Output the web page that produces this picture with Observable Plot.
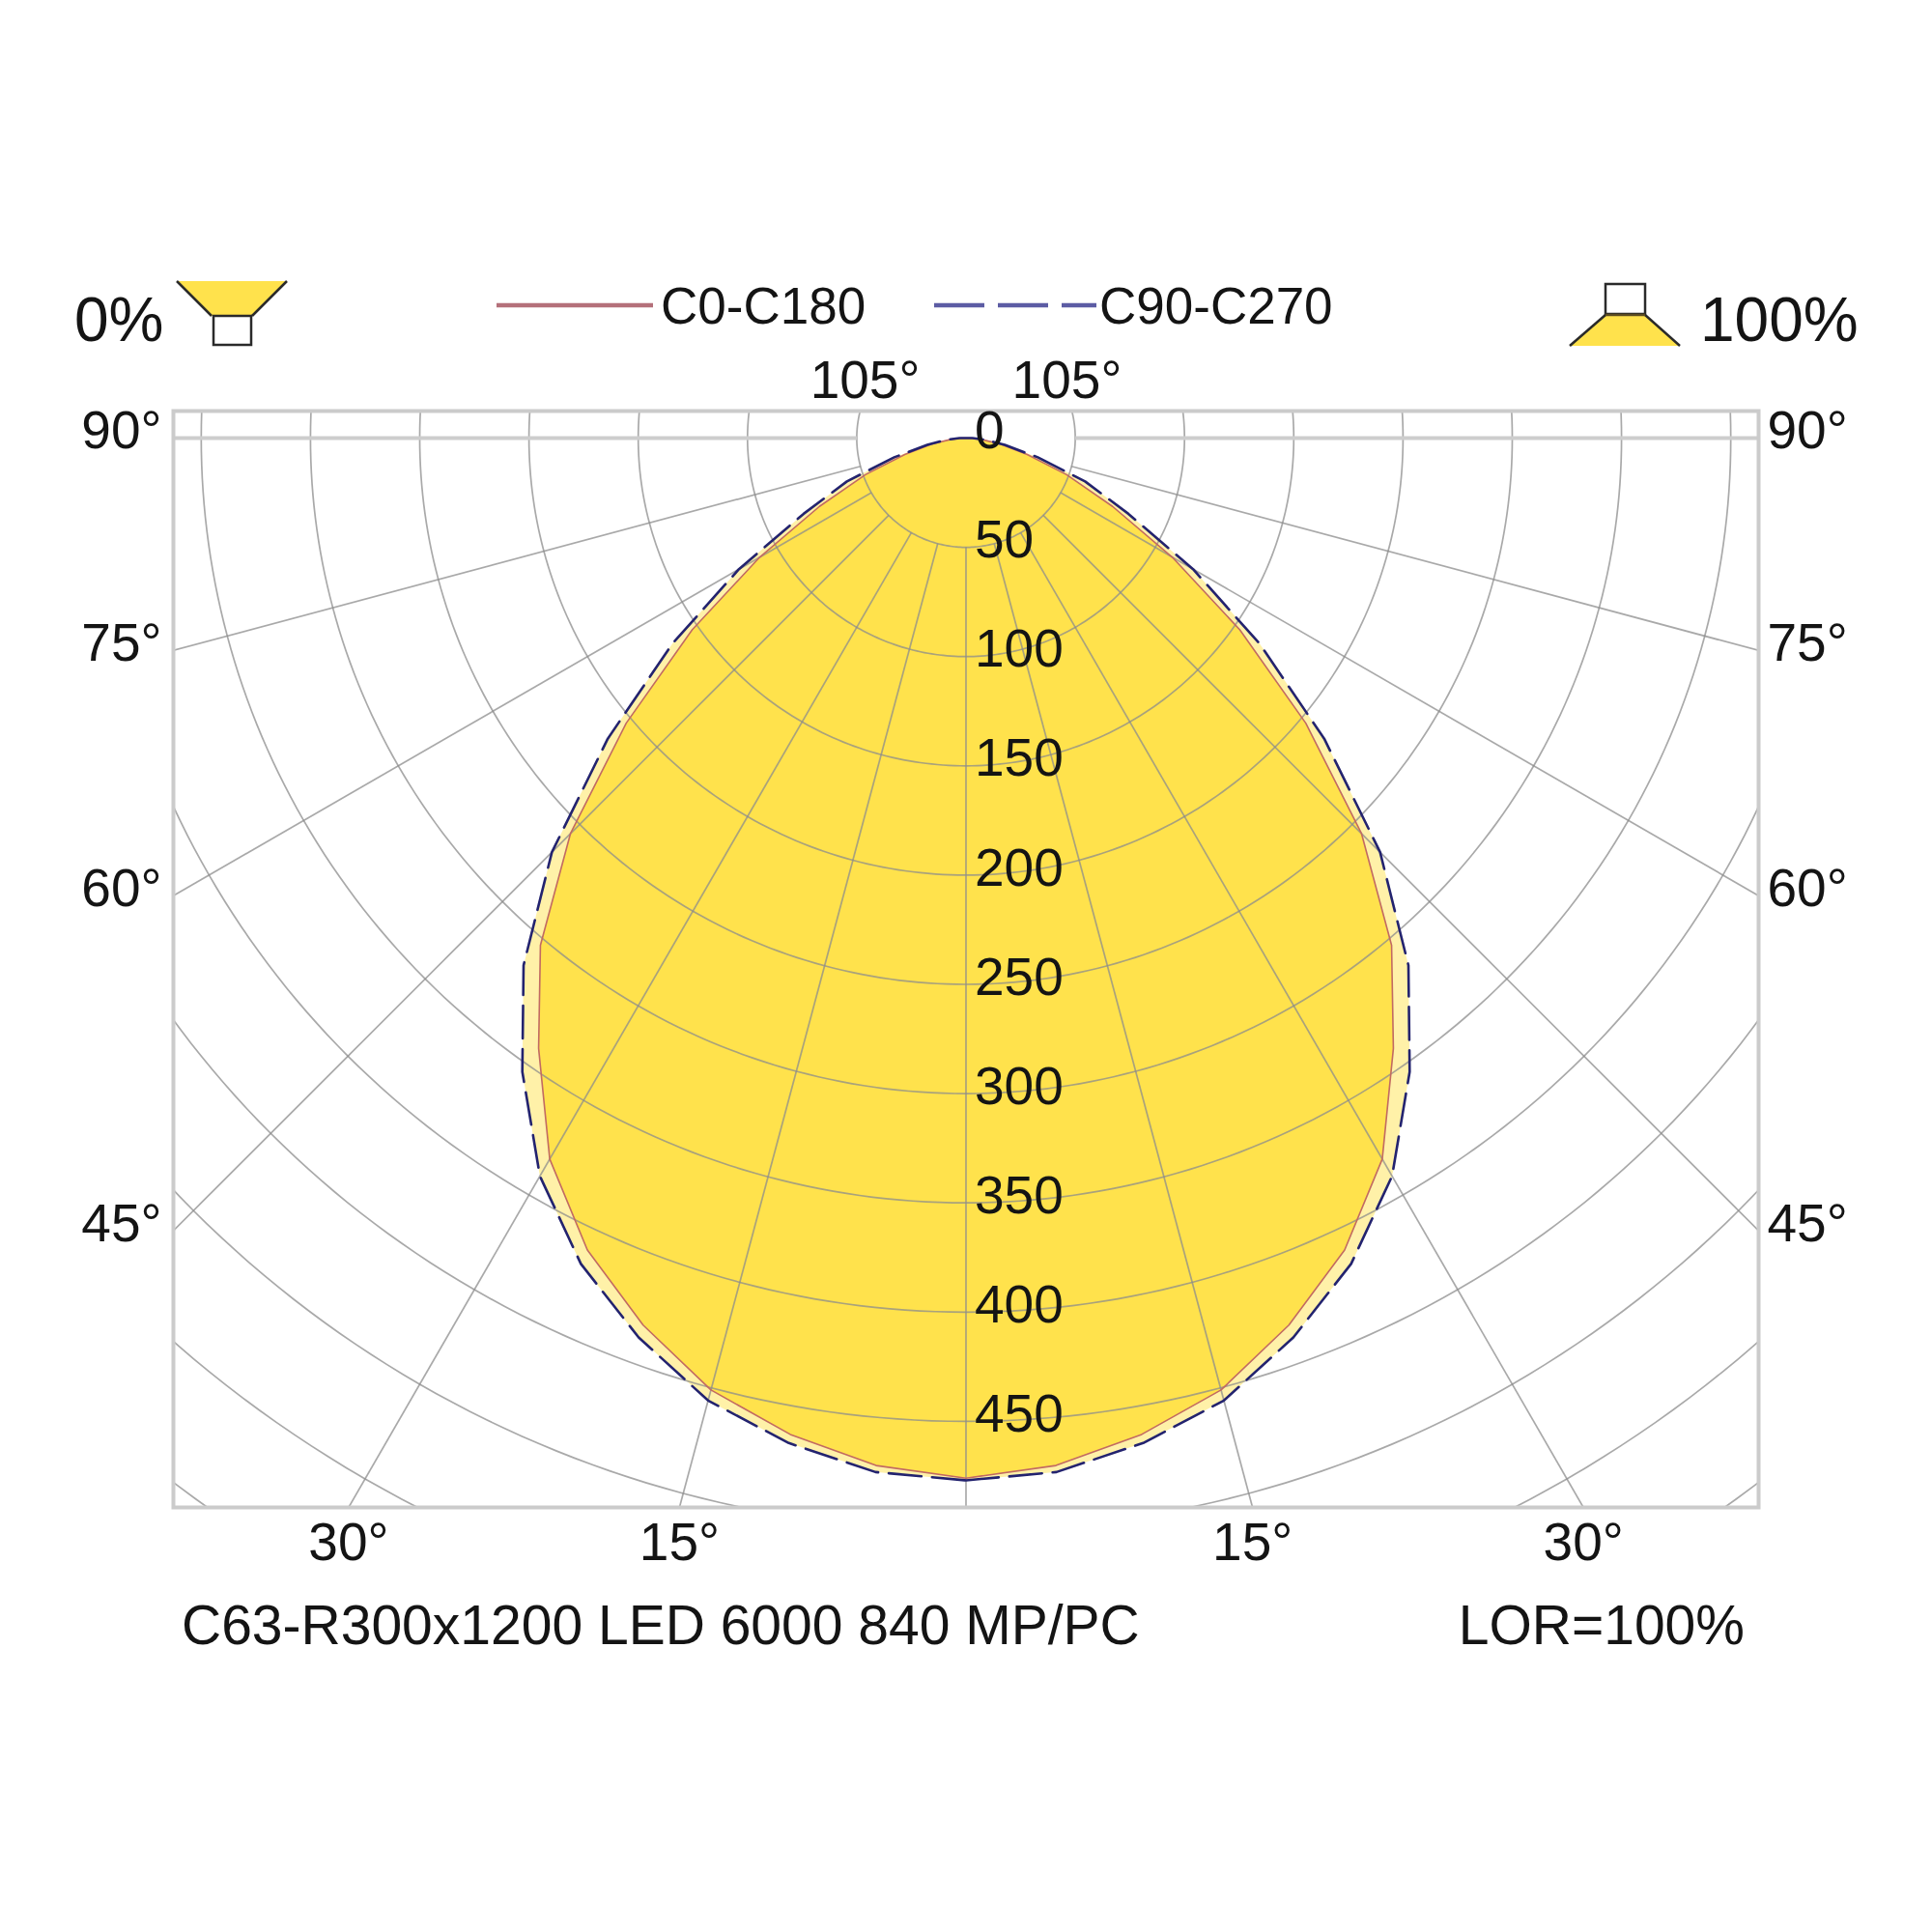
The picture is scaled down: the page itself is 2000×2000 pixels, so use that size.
<!DOCTYPE html>
<html>
<head>
<meta charset="utf-8">
<script src="https://cdn.jsdelivr.net/npm/d3@7"></script>
<script src="https://cdn.jsdelivr.net/npm/@observablehq/plot@0.6"></script>
<style>
  html, body { margin: 0; padding: 0; background: #ffffff; }
  #chart svg { display: block; }
</style>
</head>
<body>
<div id="chart"></div>
<script>
// ---------------- data (luminous intensity, cd) ----------------
const angles = [0, 5, 10, 15, 20, 25, 30, 35, 40, 45, 50, 55, 60, 65, 70, 75, 80, 85, 90,
                95, 100, 105, 110, 115, 120, 125, 130, 135, 140, 145, 150, 155, 160, 165, 170, 175, 180];
const c0c180 = [476, 472, 463, 451, 432, 410, 381, 341, 303, 256, 203, 153, 109, 74, 49, 29, 16, 7, 2,
                0, 0, 0, 0, 0, 0, 0, 0, 0, 0, 0, 0, 0, 0, 0, 0, 0, 0];
const c90c270 = [477, 475, 467, 456, 438, 417, 390, 354, 315, 268, 214, 164, 120, 82, 58, 34, 18, 9, 3,
                 0, 0, 0, 0, 0, 0, 0, 0, 0, 0, 0, 0, 0, 0, 0, 0, 0, 0];
const ringLabels = [0, 50, 100, 150, 200, 250, 300, 350, 400, 450];
const sideAngleTicks = [90, 75, 60, 45];
const bottomAngleTicks = [15, 30];
const topAngleTicks = [105];
const seriesNames = ["C0-C180", "C90-C270"];
const footerLeft = "C63-R300x1200 LED 6000 840 MP/PC";
const footerRight = "LOR=100%";

// ---------------- layout ----------------
const W = 2000, H = 2000;
const L = 179, R = 1820, T = 425, B = 1560;   // frame
const CX = 999.5, CY = 453;                   // luminaire centre
const PX = 2.262;                             // px per cd
const xDom = [(L - CX) / PX, (R - CX) / PX];
const yDom = [-(B - CY) / PX, (CY - T) / PX];
const rad = d => d * Math.PI / 180;

// polar -> cartesian (angle measured from straight down)
function polygon(vals) {
  const pts = [];
  angles.forEach((a, i) => pts.push({x: vals[i] * Math.sin(rad(a)), y: -vals[i] * Math.cos(rad(a))}));
  for (let i = angles.length - 1; i >= 0; i--) {
    const a = angles[i];
    pts.push({x: -vals[i] * Math.sin(rad(a)), y: -vals[i] * Math.cos(rad(a))});
  }
  return pts;
}
const polyC0 = polygon(c0c180);
const polyC90 = polygon(c90c270);

// grid
const ringStep = 50;
const rings = [];
for (let r = ringStep; r <= 650; r += ringStep) {
  for (let t = 0; t <= 360; t += 1) rings.push({r, x: r * Math.sin(rad(t)), y: -r * Math.cos(rad(t))});
}
const spokeAngles = [];
for (let a = -105; a <= 105; a += 15) if (Math.abs(a) !== 90) spokeAngles.push(a);
const spokes = spokeAngles.map(a => ({
  x1: ringStep * Math.sin(rad(a)), y1: -ringStep * Math.cos(rad(a)),
  x2: 900 * Math.sin(rad(a)), y2: -900 * Math.cos(rad(a))
}));
const horiz = [-1, 1].map(s => ({x1: s * ringStep, y1: 0, x2: s * 900, y2: 0}));

// angle labels
const xHalf = xDom[1];
const sideLabels = [];
sideAngleTicks.forEach(a => [-1, 1].forEach(s => sideLabels.push({
  s, x: s * xHalf, y: a === 90 ? 0 : -xHalf / Math.tan(rad(a)), text: a + "°"
})));
const bottomLabels = [];
bottomAngleTicks.forEach(a => [-1, 1].forEach(s => bottomLabels.push({
  x: s * (-yDom[0]) * Math.tan(rad(a)), y: yDom[0], text: a + "°"
})));
const topLabels = [];
topAngleTicks.forEach(a => [-1, 1].forEach(s => topLabels.push({
  x: s * yDom[1] * Math.sin(rad(a)) / -Math.cos(rad(a)), y: yDom[1], text: a + "°"
})));

const yellow = "#ffe24c";
const paleYellow = "#fff1a8";
const redLine = "#c26a62";
const blueLine = "#23236f";
const gridColor = "#8c8c8c";
const txt = "#141414";
const font = "'Liberation Sans', Arial, sans-serif";

const svg = Plot.plot({
  width: W, height: H,
  marginLeft: L, marginRight: W - R, marginTop: T, marginBottom: H - B,
  x: {domain: xDom, axis: null},
  y: {domain: yDom, axis: null},
  style: {fontFamily: font, background: "#ffffff", color: txt},
  marks: [
    Plot.line(polyC90, {x: "x", y: "y", fill: paleYellow, stroke: "none", curve: "linear-closed", clip: true}),
    Plot.line(polyC0, {x: "x", y: "y", fill: yellow, stroke: "none", curve: "linear-closed", clip: true}),
    Plot.line(rings, {x: "x", y: "y", z: "r", stroke: gridColor, strokeOpacity: 0.75, strokeWidth: 1.7, clip: true}),
    Plot.link(spokes, {x1: "x1", y1: "y1", x2: "x2", y2: "y2", stroke: gridColor, strokeOpacity: 0.75, strokeWidth: 1.7, clip: true}),
    Plot.link(horiz, {x1: "x1", y1: "y1", x2: "x2", y2: "y2", stroke: "#cdcdcd", strokeWidth: 4, clip: true}),
    Plot.frame({stroke: "#cbcbcb", strokeWidth: 4}),
    Plot.line(polyC0, {x: "x", y: "y", stroke: redLine, strokeWidth: 1.6, curve: "linear-closed", clip: true}),
    Plot.line(polyC90, {x: "x", y: "y", stroke: blueLine, strokeWidth: 2.6, strokeDasharray: "34,11", curve: "linear-closed", clip: true}),
    Plot.text(ringLabels, {x: () => 0, y: d => -d, text: d => String(d), textAnchor: "start", lineAnchor: "middle",
      dx: 9, dy: -7, fontSize: 55, fill: txt}),
    Plot.text(sideLabels.filter(d => d.s < 0), {x: "x", y: "y", text: "text", textAnchor: "end", lineAnchor: "middle",
      dx: -12, dy: -7, fontSize: 55, fill: txt}),
    Plot.text(sideLabels.filter(d => d.s > 0), {x: "x", y: "y", text: "text", textAnchor: "start", lineAnchor: "middle",
      dx: 9, dy: -7, fontSize: 55, fill: txt}),
    Plot.text(bottomLabels, {x: "x", y: "y", text: "text", textAnchor: "middle", lineAnchor: "top",
      dy: 15, fontSize: 55, fill: txt}),
    Plot.text(topLabels, {x: "x", y: "y", text: "text", textAnchor: "middle", lineAnchor: "bottom",
      dy: -14, fontSize: 55, fill: txt})
  ]
});

document.getElementById("chart").appendChild(svg);

// ---------------- legend & footer ----------------
const g = d3.select(svg).append("g").attr("font-family", font).attr("fill", txt).attr("text-anchor", "start");

// 0% (indirect) icon
g.append("text").attr("x", 77).attr("y", 353).attr("font-size", 64).attr("text-anchor", "start").text("0%");
g.append("polygon").attr("points", "183,291 297,291 261,327 219,327").attr("fill", yellow);
g.append("line").attr("x1", 183).attr("y1", 291).attr("x2", 219).attr("y2", 327).attr("stroke", "#2a2a2a").attr("stroke-width", 2.5);
g.append("line").attr("x1", 297).attr("y1", 291).attr("x2", 261).attr("y2", 327).attr("stroke", "#2a2a2a").attr("stroke-width", 2.5);
g.append("rect").attr("x", 221).attr("y", 327).attr("width", 39).attr("height", 30)
  .attr("fill", "#fff").attr("stroke", "#2a2a2a").attr("stroke-width", 2.5);

// 100% (direct) icon
g.append("rect").attr("x", 1662).attr("y", 294).attr("width", 41).attr("height", 31)
  .attr("fill", "#fff").attr("stroke", "#2a2a2a").attr("stroke-width", 2.5);
g.append("polygon").attr("points", "1662,326 1703,326 1739,358 1625,358").attr("fill", yellow);
g.append("line").attr("x1", 1662).attr("y1", 326).attr("x2", 1625).attr("y2", 358).attr("stroke", "#2a2a2a").attr("stroke-width", 2.5);
g.append("line").attr("x1", 1703).attr("y1", 326).attr("x2", 1739).attr("y2", 358).attr("stroke", "#2a2a2a").attr("stroke-width", 2.5);
g.append("line").attr("x1", 1662).attr("y1", 326).attr("x2", 1703).attr("y2", 326).attr("stroke", "#5a4a20").attr("stroke-width", 2.5);
g.append("text").attr("x", 1760).attr("y", 353).attr("font-size", 64).attr("text-anchor", "start").text("100%");

// series legend
g.append("line").attr("x1", 514).attr("y1", 316).attr("x2", 676).attr("y2", 316)
  .attr("stroke", "#b4707a").attr("stroke-width", 4.5);
g.append("text").attr("x", 684).attr("y", 335).attr("font-size", 53).attr("text-anchor", "start").text(seriesNames[0]);
g.append("line").attr("x1", 967).attr("y1", 316).attr("x2", 1135).attr("y2", 316)
  .attr("stroke", "#5c5ca4").attr("stroke-width", 4.5).attr("stroke-dasharray", "52,14");
g.append("text").attr("x", 1138).attr("y", 335).attr("font-size", 53).attr("text-anchor", "start").text(seriesNames[1]);

// footer
g.append("text").attr("x", 188).attr("y", 1702).attr("font-size", 57).attr("text-anchor", "start").text(footerLeft);
g.append("text").attr("x", 1806).attr("y", 1702).attr("font-size", 57).attr("text-anchor", "end").text(footerRight);
</script>
</body>
</html>
